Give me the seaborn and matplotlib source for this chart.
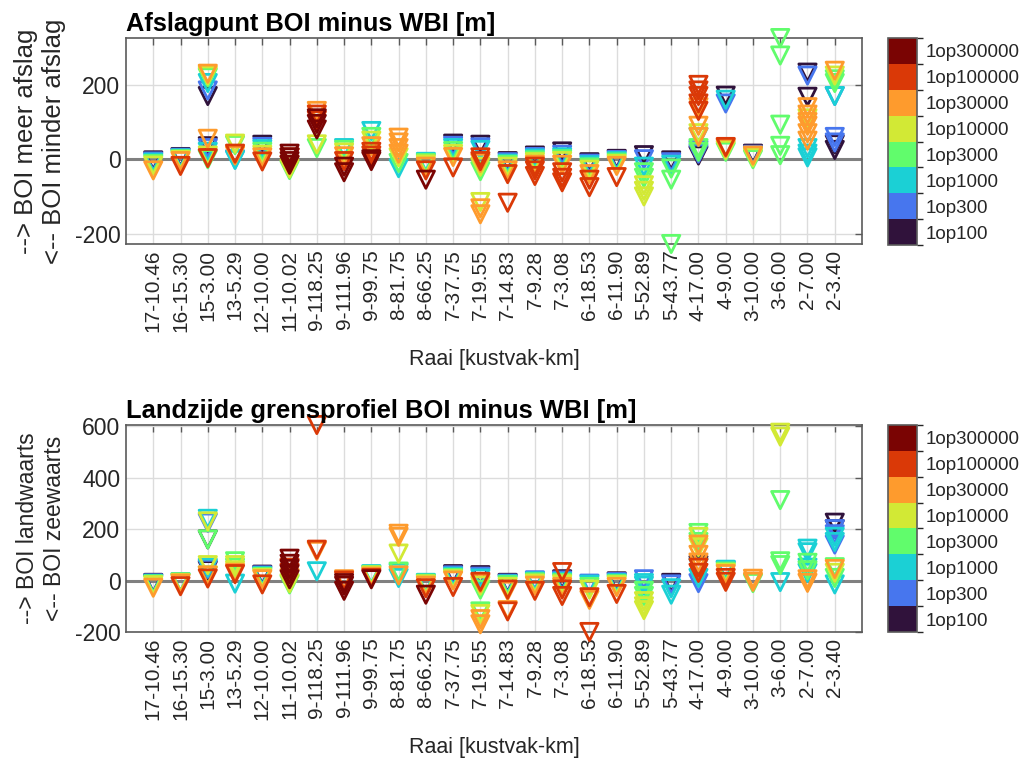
import numpy as np
import pandas as pd
import matplotlib
matplotlib.use("Agg")
import matplotlib.pyplot as plt
import seaborn as sns
from matplotlib.colors import ListedColormap, BoundaryNorm
from matplotlib.cm import ScalarMappable

nan = np.nan

raai = ["17-10.46", "16-15.30", "15-3.00", "13-5.29", "12-10.00", "11-10.02",
        "9-118.25", "9-111.96", "9-99.75", "8-81.75", "8-66.25", "7-37.75",
        "7-19.55", "7-14.83", "7-9.28", "7-3.08", "6-18.53", "6-11.90",
        "5-52.89", "5-43.77", "4-17.00", "4-9.00", "3-10.00", "3-6.00",
        "2-7.00", "2-3.40"]

return_periods = [100, 300, 1000, 3000, 10000, 30000, 100000, 300000]
rp_labels = ["1op100", "1op300", "1op1000", "1op3000", "1op10000",
             "1op30000", "1op100000", "1op300000"]

# --- Afslagpunt BOI minus WBI [m], one value per raai for each return period
afslag_rp100 = [-3, 6, 170, nan, 39, nan, nan, nan, nan, nan, nan, 42, 39,
                -5, 10, 21, -8, 1, 11, -3, 10, 171, 15, nan, 233, 25]
afslag_rp300 = [-6, 4, 185, 0, 33, nan, nan, nan, nan, nan, nan, 36, 32,
                -8, 6, 12, -12, -2, 0, -8, 15, 150, 12, nan, 225, 60]
afslag_rp1000 = [-9, 2, 205, -2, 27, nan, nan, 30, 76, -24, -7, 30, 25,
                 -12, 2, 5, -16, -5, -20, -15, 60, 160, 8, nan, 15, 170]
afslag_rp3000 = [-13, 0, 220, 38, 20, -29, 30, 25, 60, -10, -10, 22, -32,
                 -15, -3, 0, -22, -9, -50, -55, 20, 20, 0, 11, nan, 215]
afslag_rp10000 = [-17, -2, 225, 42, 12, -25, 40, 18, 50, 5, -14, 14, -20,
                  -20, -8, -5, -28, -13, -100, nan, 70, 25, 5, nan, 110, 225]
afslag_rp30000 = [-30, -5, 230, 10, 5, -15, 130, 8, 35, 58, -20, 6, -10,
                  -30, -15, -15, -40, -18, nan, nan, 90, 30, 10, nan, 100, 238]
afslag_rp100000 = [nan, -18, 3, 15, -6, 5, 120, -5, 20, nan, -30, -22, -5,
                   -40, -45, -62, -75, -48, nan, nan, 200, 33, nan, nan, nan, nan]
afslag_rp300000 = [nan, nan, nan, nan, nan, 15, 95, -35, 0, nan, -55, nan, nan,
                   nan, nan, nan, nan, nan, nan, nan, nan, nan, nan, nan, nan, nan]
# additional results (raai index, return period, value)
afslag_extra = [(2, 100, 35), (2, 300, 30), (2, 1000, 20), (2, 3000, 0),
                (2, 10000, 10), (2, 30000, 55),
                (5, 300000, 5), (5, 300000, -5), (5, 300000, -15),
                (6, 100000, 105), (6, 300000, 110), (6, 300000, 80),
                (7, 300000, -20), (8, 100000, 10), (8, 300000, -5),
                (9, 30000, 45), (9, 30000, 30), (9, 30000, 15),
                (12, 10000, -115), (12, 30000, -132), (12, 30000, -148),
                (12, 100000, 5), (13, 100000, -117),
                (14, 100000, -30), (14, 100000, -20),
                (15, 100000, -35), (15, 100000, -50), (16, 100000, -55),
                (18, 3000, -35), (18, 10000, -70), (18, 10000, -85),
                (19, 3000, -25), (19, 3000, -228),
                (20, 100000, 185), (20, 100000, 170), (20, 100000, 150),
                (20, 100000, 130), (20, 30000, 140), (20, 30000, 60),
                (20, 3000, 30), (20, 300, 25),
                (23, 3000, 326), (23, 3000, 279), (23, 3000, 93), (23, 3000, 36),
                (24, 100, 168), (24, 30000, 140), (24, 30000, 120),
                (24, 30000, 90), (24, 30000, 70), (24, 30000, 50),
                (24, 1000, 30), (24, 1000, 5),
                (25, 100, 40), (25, 300, 45), (25, 300, 170), (25, 3000, 205)]

# --- Landzijde grensprofiel BOI minus WBI [m]
grens_rp100 = [-9, nan, 40, nan, 23, nan, nan, nan, nan, nan, nan, 25, 21,
               -9, nan, 5, nan, -3, nan, -9, nan, nan, nan, nan, nan, 225]
grens_rp300 = [-11, nan, 45, nan, 20, nan, nan, nan, nan, nan, nan, 20, 15,
               -12, 1, 0, -12, -6, 5, -15, -10, 40, nan, nan, nan, 200]
grens_rp1000 = [-13, -6, 50, -12, 17, nan, 36, nan, 25, 10, -9, 15, 8,
                -15, -3, -5, -16, -10, -20, -55, 10, 42, nan, -6, 124, 150]
grens_rp3000 = [-15, -7, 20, 75, 14, -15, nan, nan, 22, 35, -12, 10, -35,
                -18, -7, -10, -25, -14, -60, nan, 185, 35, -10, 75, 69, 52]
grens_rp10000 = [-18, -9, 60, 60, 10, -10, nan, nan, 20, 105, -15, 5, -20,
                 -25, -12, -15, -35, -18, -115, nan, 170, 30, nan, 575, nan, 30]
grens_rp30000 = [-28, -12, 20, 30, 5, 10, 115, 5, 15, 182, -20, 0, -10,
                 -40, -20, -25, -75, -25, nan, nan, 140, 25, 7, nan, -9, 45]
grens_rp100000 = [nan, -22, 8, 25, -15, 30, 120, 0, 10, nan, -30, -25, -5,
                  -35, -40, -60, -65, -52, nan, nan, 30, 10, nan, nan, nan, nan]
grens_rp300000 = [nan, nan, nan, nan, nan, 85, nan, -40, 5, nan, -55, nan, nan,
                  nan, nan, nan, nan, nan, nan, nan, nan, nan, nan, nan, nan, nan]
grens_extra = [(2, 1000, 240), (2, 10000, 230), (2, 300, 225), (2, 100, 160),
               (2, 3000, 160), (3, 3000, 50), (3, 10000, 40),
               (5, 300000, 65), (5, 300000, 45), (5, 300000, 25),
               (5, 300000, 5), (5, 100000, 50), (6, 100000, 605),
               (7, 300000, -20), (7, 300000, -10),
               (9, 30000, 170), (9, 30000, 20), (9, 1000, 30),
               (12, 3000, -120), (12, 10000, -130), (12, 30000, -150),
               (12, 30000, -170), (13, 100000, -120), (13, 30000, -115),
               (15, 100000, 33), (15, 100000, -35), (16, 100000, -200),
               (18, 3000, -40), (18, 10000, -80), (18, 10000, -100),
               (18, 1000, -10), (19, 1000, -30),
               (20, 3000, 150), (20, 10000, 130), (20, 30000, 100),
               (20, 30000, 70), (20, 100000, 50), (20, 100, 60), (20, 1000, 50),
               (21, 100000, -5), (22, 30000, -5),
               (23, 10000, 560), (23, 3000, 313), (23, 3000, 60),
               (24, 1000, 110), (24, 1000, 50), (24, 3000, 40), (24, 1000, 30),
               (24, 30000, 5),
               (25, 100, 200), (25, 300, 180), (25, 300, 140), (25, 1000, 170),
               (25, 3000, 10), (25, 1000, -15)]

afslag_series = [afslag_rp100, afslag_rp300, afslag_rp1000, afslag_rp3000,
                 afslag_rp10000, afslag_rp30000, afslag_rp100000, afslag_rp300000]
grens_series = [grens_rp100, grens_rp300, grens_rp1000, grens_rp3000,
                grens_rp10000, grens_rp30000, grens_rp100000, grens_rp300000]


def long_table(series, extra):
    rows = []
    for rp, vals in zip(return_periods, series):
        for i, v in enumerate(vals):
            if not np.isnan(v):
                rows.append((raai[i], rp, v))
    for i, rp, v in extra:
        rows.append((raai[i], rp, v))
    df = pd.DataFrame(rows, columns=["raai", "rp", "value"])
    df["pos"] = pd.Categorical(df["raai"], categories=raai).codes
    df["order"] = df["rp"].map(return_periods.index)
    return df.sort_values("order", kind="stable")


sns.set_theme(style="white")
plt.rcParams["font.family"] = ["Liberation Sans", "DejaVu Sans"]
plt.rcParams["axes.edgecolor"] = "#5a5a5a"
plt.rcParams["text.color"] = "#262626"

turbo = plt.get_cmap("turbo")
colors = [turbo(i / 7) for i in range(8)]
palette = dict(zip(return_periods, colors))

fig = plt.figure(figsize=(10.31, 7.64), dpi=100)

panels = [
    dict(series=afslag_series, extra=afslag_extra,
         title="Afslagpunt BOI minus WBI [m]", title_size=18.3,
         ylabel="--> BOI meer afslag\n<-- BOI minder afslag", ylabel_size=18.5,
         ylim=(-228, 326), yticks=[-200, 0, 200],
         rect=[0.1222, 0.6806, 0.7139, 0.2696],
         crect=[0.8613, 0.6793, 0.0281, 0.2709]),
    dict(series=grens_series, extra=grens_extra,
         title="Landzijde grensprofiel BOI minus WBI [m]", title_size=18.4,
         ylabel="--> BOI landwaarts\n<-- BOI zeewaarts", ylabel_size=16.5,
         ylim=(-200, 605), yticks=[-200, 0, 200, 400, 600],
         rect=[0.1222, 0.1728, 0.7139, 0.2709],
         crect=[0.8613, 0.1728, 0.0281, 0.2709]),
]

for p in panels:
    ax = fig.add_axes(p["rect"])
    df = long_table(p["series"], p["extra"])
    ax.axhline(0, color="#808080", lw=2.2, zorder=2)
    sns.scatterplot(data=df, x="pos", y="value", hue="rp", palette=palette,
                    marker="v", s=155, linewidth=2.0, legend=False, ax=ax,
                    zorder=3, clip_on=False)
    coll = ax.collections[-1]
    fc = coll.get_facecolors()
    coll.set_edgecolors(fc)
    coll.set_facecolors("none")

    ax.set_xlim(-1, len(raai))
    ax.set_ylim(*p["ylim"])
    ax.set_xticks(range(len(raai)))
    ax.set_xticklabels(raai, rotation=90, fontsize=15, color="#262626")
    ax.set_yticks(p["yticks"])
    ax.set_yticklabels([str(t) for t in p["yticks"]], fontsize=16.5,
                       color="#262626")
    ax.tick_params(direction="in", length=5, width=1, top=True, right=True,
                   color="#5a5a5a", pad=4)
    ax.grid(True, color="#dcdcdc", lw=1)
    ax.set_axisbelow(True)
    for s in ax.spines.values():
        s.set_linewidth(1.2)
    ax.set_title(p["title"], loc="left", fontsize=p["title_size"],
                 fontweight="bold", color="black", pad=5)
    ax.set_xlabel("Raai [kustvak-km]", fontsize=15.5, labelpad=12)
    ax.set_ylabel(p["ylabel"], fontsize=p["ylabel_size"], labelpad=6,
                  linespacing=1.25)

    cax = fig.add_axes(p["crect"])
    cmap = ListedColormap(colors)
    norm = BoundaryNorm(np.arange(9), 8)
    cb = fig.colorbar(ScalarMappable(norm=norm, cmap=cmap), cax=cax,
                      ticks=np.arange(8) + 0.5)
    cb.set_ticklabels(rp_labels)
    cb.ax.tick_params(direction="in", length=3, labelsize=13.5,
                      color="#5a5a5a", labelcolor="#262626", pad=6)
    cb.outline.set_edgecolor("#5a5a5a")
    cb.outline.set_linewidth(1.2)

fig.savefig("out.png", dpi=100)
